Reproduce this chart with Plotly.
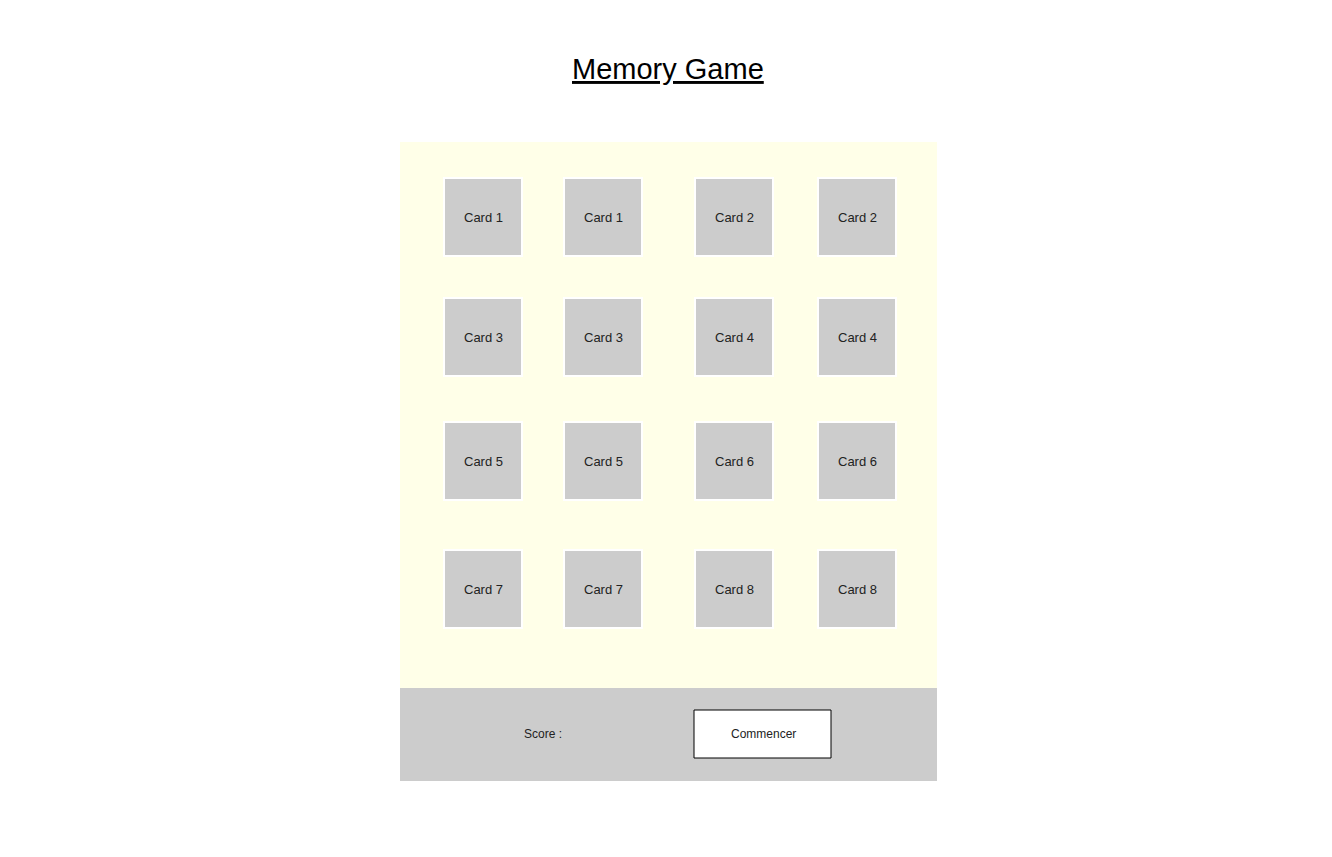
import plotly.graph_objects as go

# layout of the game board (page pixels)
col_left = [444, 564, 695, 818]
row_top = [178, 298, 422, 550]
card_labels = [
    ["Card 1", "Card 1", "Card 2", "Card 2"],
    ["Card 3", "Card 3", "Card 4", "Card 4"],
    ["Card 5", "Card 5", "Card 6", "Card 6"],
    ["Card 7", "Card 7", "Card 8", "Card 8"],
]
card_size = 78

W, H = 1332, 857
OFF = 8  # page body margin shifts the plot by 8px
FONT = "Liberation Sans, Arial, sans-serif"

fig = go.Figure()
shapes = []
annotations = []

# board background and score bar
shapes.append(dict(type="rect", x0=400, x1=937, y0=142, y1=688,
                   fillcolor="#ffffe8", line_width=0, layer="below"))
shapes.append(dict(type="rect", x0=400, x1=937, y0=688, y1=781,
                   fillcolor="#cccccc", line_width=0, layer="below"))
shapes.append(dict(type="rect", x0=694, x1=831, y0=710, y1=758,
                   fillcolor="white", line=dict(color="black", width=1)))

for r, top in enumerate(row_top):
    for c, left in enumerate(col_left):
        shapes.append(dict(type="rect", x0=left, x1=left + card_size,
                           y0=top, y1=top + card_size,
                           fillcolor="#cccccc", line=dict(color="white", width=2)))
        annotations.append(dict(x=left + card_size / 2, y=top + card_size / 2,
                                text=card_labels[r][c], showarrow=False,
                                font=dict(size=13, color="#222222", family=FONT)))

annotations.append(dict(x=668, y=69, text="<u>Memory Game</u>", showarrow=False,
                        font=dict(size=29, color="black", family=FONT)))
annotations.append(dict(x=543, y=734, text="Score :", showarrow=False,
                        font=dict(size=12, color="#222222", family=FONT)))
annotations.append(dict(x=763, y=734, text="Commencer", showarrow=False,
                        font=dict(size=12, color="#222222", family=FONT)))

fig.update_layout(
    width=W, height=H,
    margin=dict(l=0, r=0, t=0, b=0),
    paper_bgcolor="white", plot_bgcolor="white",
    shapes=shapes, annotations=annotations,
    xaxis=dict(range=[OFF, W + OFF], visible=False, fixedrange=True),
    yaxis=dict(range=[H + OFF, OFF], visible=False, fixedrange=True),
    showlegend=False,
)
fig.write_html("out.html", config={"displayModeBar": False})
